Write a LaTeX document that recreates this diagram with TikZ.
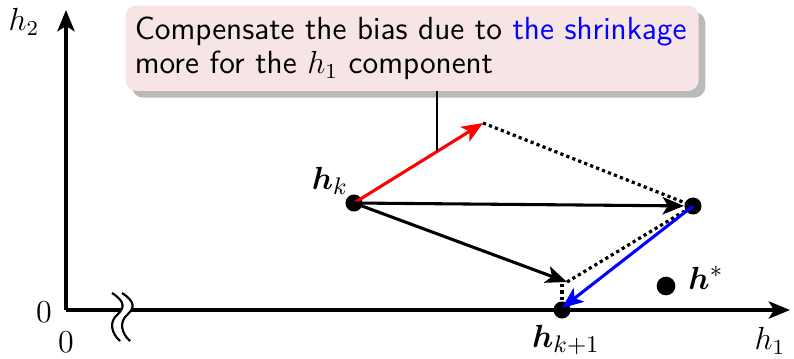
\documentclass[tikz,border=0pt]{standalone}
\usepackage{amsmath,bm}
\usetikzlibrary{arrows.meta,shadows,calc}
\definecolor{boxpink}{RGB}{247,228,228}
\begin{document}
\begin{tikzpicture}[x=0.375pt,y=-0.375pt,
  font=\fontsize{12}{14}\selectfont,
  dotnode/.style={circle,fill=black,inner sep=0pt,minimum size=6.4pt},
  vec/.style={line width=1.15pt,-{Stealth[length=8pt,width=6.5pt,inset=2pt]}},
  dotline/.style={line width=1.2pt,dash pattern=on 1.2pt off 1.2pt},
  axis/.style={line width=1.15pt,-{Stealth[length=8pt,width=6.5pt,inset=2pt]}},
  biglabel/.style={font=\fontsize{13}{15}\selectfont},
  callout/.style={fill=boxpink,rounded corners=4pt,inner xsep=3.5pt,inner ysep=2pt,
     drop shadow={shadow xshift=2.5pt,shadow yshift=-2.5pt,opacity=0.45,fill=black!60},
     font=\sffamily\fontsize{12}{13}\selectfont,align=left,anchor=north west,
     text width=207.9pt,minimum height=32pt}]
\useasboundingbox (0,0) rectangle (794,358);
% axes
\coordinate (O) at (66,310);
\coordinate (Y) at (66,10);
\coordinate (X) at (790,310);
\draw[axis] (O) -- (Y);
\draw[axis] (O) -- (X);
% break symbol
\fill[white] (112,293) .. controls (126,302) and (124,308) .. (118,314)
   .. controls (108,322) and (112,334) .. (120,341) -- (130,341)
   .. controls (122,334) and (118,322) .. (128,314)
   .. controls (134,308) and (136,302) .. (122,293) -- cycle;
\draw[line width=0.8pt] (112,293) .. controls (126,302) and (124,308) .. (118,314)
   .. controls (108,322) and (112,334) .. (120,341);
\draw[line width=0.8pt] (122,293) .. controls (136,302) and (134,308) .. (128,314)
   .. controls (118,322) and (122,334) .. (130,341);
% axis labels
\node (lh2) at (24,22) {$h_2$};
\node (l0a) at (44,312) {$0$};
\node (l0b) at (66,342) {$0$};
\node (lh1) at (770,341) {$h_1$};
% points
\node[dotnode] (hk) at (354,203) {};
\node[dotnode] (p) at (693,206) {};
\node[dotnode] (hk1) at (562,310) {};
\node[dotnode,minimum size=7pt] (hs) at (666,286) {};
\node[biglabel] (lhk) at (330,181) {$\bm{h}_k$};
\node[biglabel] (lhk1) at (566,340) {$\bm{h}_{k+1}$};
\node[biglabel] (lhs) at (706,278) {$\bm{h}^*$};
\coordinate (r) at (483,123);
\coordinate (m) at (567,282);
\coordinate (m2) at (562,284);
% dotted lines
\draw[dotline] (r) -- (p.center);
\draw[dotline] (m) -- (p.center);
\draw[dotline] (m2) -- (hk1.center);
% vectors
\draw[vec,red] (hk.center) -- (r);
\draw[vec] (hk.center) -- (p);
\draw[vec] (hk.center) -- (m);
\draw[vec,blue] (p.center) -- ($(hk1.center)+(0,-2)$);
% callout
\node[callout] (box) at (125,5) {\mbox{Compensate the bias due to \textcolor{blue}{the shrinkage}}\\more for the $h_1$ component};
\path (hk.center) -- (r) coordinate[pos=0.645] (c);
\draw[line width=0.8pt] (c |- box.south) -- (c);
\end{tikzpicture}
\end{document}
